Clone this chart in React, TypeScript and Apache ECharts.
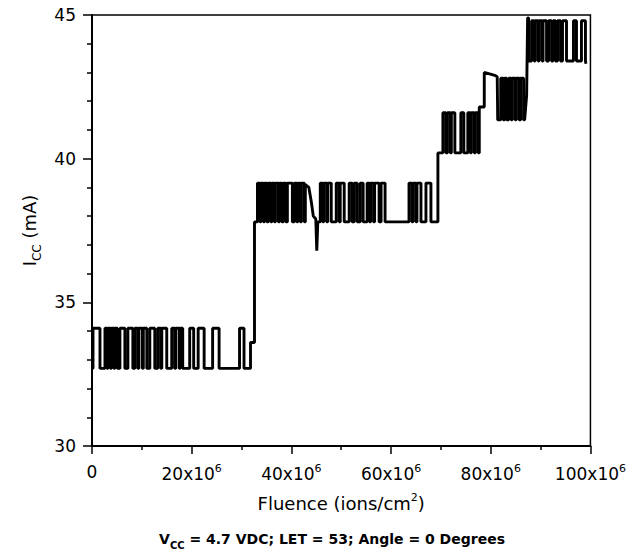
import React, { useEffect, useRef } from "react";
import * as echarts from "echarts";

// Fluence in units of 10^6 ions/cm^2, current in mA
const xTickValues = [0, 20, 40, 60, 80, 100];
const yTickValues = [30, 35, 40, 45];

// Segment 1: low 32.7 mA, high 34.1 mA
const seg1Base = 32.7;
const seg1High = 34.1;
const seg1Pulses: [number, number][] = [
  [0.2, 1.6], [2.6, 3.0], [3.2, 3.7], [3.9, 4.4], [4.6, 5.1], [5.6, 6.6],
  [7.2, 8.2], [8.6, 9.2], [9.4, 10.1], [10.3, 11.0], [11.6, 12.6], [13.2, 13.8],
  [14.0, 15.0], [16.0, 16.6], [16.8, 17.5], [17.7, 18.2], [19.6, 20.4],
  [21.3, 22.5], [24.2, 25.5], [29.6, 30.5],
];
const trans12: [number, number][] = [
  [31.8, 32.7], [31.8, 33.6], [32.6, 33.6], [32.6, 37.8],
];

// Segment 2: low 37.8 mA, high 39.15 mA
const seg2Base = 37.8;
const seg2High = 39.15;
const seg2PulsesA: [number, number][] = [
  [33.2, 33.7], [33.9, 34.4], [34.6, 35.1], [35.4, 35.9], [36.1, 36.6],
  [36.8, 37.4], [37.6, 38.1], [38.4, 38.9], [39.2, 40.2], [40.6, 41.1],
  [41.3, 41.8], [42.0, 42.6],
];
const seg2Droop: [number, number][] = [
  [42.8, 37.8], [42.8, 39.1], [43.5, 39.0], [44.0, 38.5], [44.4, 38.0],
  [44.9, 37.9], [45.1, 36.8], [45.3, 37.8],
];
const seg2PulsesB: [number, number][] = [
  [45.8, 46.3], [46.5, 47.1], [47.3, 48.0], [49.0, 49.6], [49.8, 50.6],
  [51.6, 52.2], [52.6, 53.2], [53.8, 54.4], [55.2, 55.7], [55.9, 56.5],
  [56.7, 57.6], [58.0, 58.8], [63.6, 64.2], [64.4, 65.0], [65.2, 66.0],
  [67.0, 68.0],
];
const trans23: [number, number][] = [[69.4, 37.8], [69.4, 40.2]];

// Segment 3: low 40.2 mA, high 41.6 mA
const seg3Base = 40.2;
const seg3High = 41.6;
const seg3Pulses: [number, number][] = [
  [70.4, 71.0], [71.3, 71.9], [72.1, 72.8], [74.0, 74.6], [75.4, 75.9],
  [76.1, 76.7], [76.9, 77.5],
];
const trans34: [number, number][] = [
  [77.7, 40.2], [77.7, 41.8], [78.7, 41.8], [78.7, 43.0], [80.8, 42.9],
  [81.3, 42.85], [81.4, 41.35],
];

// Segment 4: low 41.35 mA, high 42.8 mA
const seg4Base = 41.35;
const seg4High = 42.8;
const seg4Pulses: [number, number][] = [
  [82.0, 82.5], [82.8, 83.2], [83.6, 84.1], [84.3, 84.9], [85.1, 85.7],
  [86.0, 86.6],
];
const trans45: [number, number][] = [
  [86.8, 41.35], [87.2, 42.2], [87.4, 44.9], [87.6, 44.9], [87.6, 43.4],
];

// Segment 5: low 43.4 mA, high 44.8 mA
const seg5Base = 43.4;
const seg5High = 44.8;
const seg5Pulses: [number, number][] = [
  [88.2, 88.7], [88.9, 89.5], [89.7, 90.3], [90.5, 91.2], [91.6, 92.2],
  [92.5, 93.0], [93.4, 94.0], [94.4, 95.2], [96.6, 97.2], [98.2, 99.0],
];
const seriesEnd: [number, number][] = [[99.1, 43.3]];
const seriesStart: [number, number][] = [[0, 32.7]];

function train(pulses: [number, number][], base: number, high: number) {
  const pts: [number, number][] = [];
  pulses.forEach(([s, e]) => {
    pts.push([s, base], [s, high], [e, high], [e, base]);
  });
  return pts;
}

const FONT = "DejaVu Sans";
const INK = "#000";

export default function App() {
  const ref = useRef<HTMLDivElement>(null);
  useEffect(() => {
    if (!ref.current) return;
    const chart = echarts.init(ref.current, undefined, { renderer: "svg" });
    const data: [number, number][] = [
      ...seriesStart,
      ...train(seg1Pulses, seg1Base, seg1High),
      ...trans12,
      ...train(seg2PulsesA, seg2Base, seg2High),
      ...seg2Droop,
      ...train(seg2PulsesB, seg2Base, seg2High),
      ...trans23,
      ...train(seg3Pulses, seg3Base, seg3High),
      ...trans34,
      ...train(seg4Pulses, seg4Base, seg4High),
      ...trans45,
      ...train(seg5Pulses, seg5Base, seg5High),
      ...seriesEnd,
    ];
    const tickRich = {
      a: { fontFamily: FONT, fontSize: 17, color: INK, verticalAlign: "bottom" as const },
      s: { fontFamily: FONT, fontSize: 11, color: INK, verticalAlign: "bottom" as const, padding: [0, 0, 8, 0] },
    };
    const nameRich = {
      a: { fontFamily: FONT, fontSize: 18, color: INK, verticalAlign: "bottom" as const },
      s: { fontFamily: FONT, fontSize: 11, color: INK, verticalAlign: "bottom" as const, padding: [0, 0, 9, 0] },
    };
    chart.setOption({
      animation: false,
      backgroundColor: "#fff",
      grid: {
        left: 92, right: 37, top: 15, bottom: 110,
        show: true, borderColor: INK, borderWidth: 1.5, backgroundColor: "transparent",
      },
      xAxis: {
        type: "value", min: 0, max: 100, interval: 20,
        axisLine: { show: true, lineStyle: { color: INK, width: 2 } },
        axisTick: { show: true, length: 8, lineStyle: { color: INK, width: 1.5 } },
        minorTick: { show: true, splitNumber: 2, length: 4, lineStyle: { color: INK, width: 1.5 } },
        splitLine: { show: false },
        axisLabel: {
          margin: 17,
          formatter: (v: number) => (v === 0 ? "{a|0}" : `{a|${v}x10}{s|6}`),
          rich: tickRich,
        },
        customValues: xTickValues,
        name: "{a|Fluence (ions/cm}{s|2}{a|)}",
        nameLocation: "middle",
        nameGap: 46,
        nameTextStyle: { rich: nameRich },
      },
      yAxis: {
        type: "value", min: 30, max: 45, interval: 5,
        axisLine: { show: true, lineStyle: { color: INK, width: 2 } },
        axisTick: { show: true, length: 9, lineStyle: { color: INK, width: 1.5 } },
        minorTick: { show: true, splitNumber: 5, length: 5, lineStyle: { color: INK, width: 1.5 } },
        splitLine: { show: false },
        axisLabel: { margin: 16, fontFamily: FONT, fontSize: 17, color: INK },
        customValues: yTickValues,
        name: "{a|I}{b|CC}{a| (mA)}",
        nameLocation: "middle",
        nameRotate: 90,
        nameGap: 48,
        nameTextStyle: {
          rich: {
            a: { fontFamily: FONT, fontSize: 18, color: INK, verticalAlign: "bottom", padding: [0, 0, 5, 0] },
            b: { fontFamily: FONT, fontSize: 12, color: INK, verticalAlign: "bottom" },
          },
        },
      },
      graphic: [
        {
          type: "text",
          x: 332,
          y: 541,
          style: {
            text: "{a|V}{b|CC}{a| = 4.7 VDC; LET = 53; Angle = 0 Degrees}",
            align: "center",
            verticalAlign: "middle",
            rich: {
              a: { fontFamily: FONT, fontSize: 14, fontWeight: "bold", fill: INK, verticalAlign: "bottom", padding: [0, 0, 4, 0] },
              b: { fontFamily: FONT, fontSize: 10, fontWeight: "bold", fill: INK, verticalAlign: "bottom" },
            },
          },
        },
      ],
      series: [
        {
          type: "line",
          data,
          showSymbol: false,
          symbol: "none",
          lineStyle: { color: INK, width: 2.9 },
          silent: true,
        },
      ],
    });
    return () => chart.dispose();
  }, []);
  return (
    <div
      ref={ref}
      style={{ position: "absolute", left: 0, top: 0, width: 629, height: 556 }}
    />
  );
}
